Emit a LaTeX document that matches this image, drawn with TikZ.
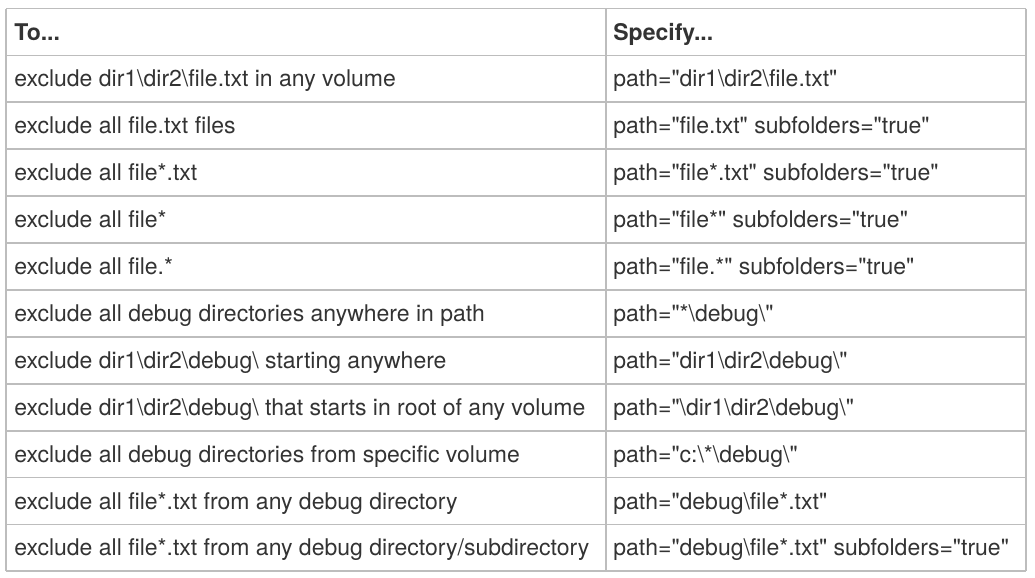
\documentclass[tikz,border=0pt]{standalone}
\usepackage{fontspec}
\setmainfont{TeX Gyre Heros}[Ligatures=TeXOff]
\newcommand\bsl{\textbackslash}
\definecolor{gridc}{HTML}{BDBDBD}
\definecolor{ink}{HTML}{333333}
\begin{document}
\begin{tikzpicture}[x=0.5pt,y=-0.5pt,
  cell/.style={anchor=base west,inner sep=0pt,text=ink,font=\fontsize{11.5}{13}\selectfont},
  head/.style={cell,font=\fontsize{11.5}{13}\selectfont\bfseries},
  rule/.style={draw=gridc,line width=0.9pt}]
\useasboundingbox (0,0) rectangle (1035,578);
% grid
\foreach \k in {0,...,12} {
  \draw[rule] (6,{8.5+46.9*\k}) -- (1026,{8.5+46.9*\k});
}
\draw[rule] (6,8.5) -- (6,571.3);
\draw[rule] (606,8.5) -- (606,571.3);
\draw[rule] (1026,8.5) -- (1026,571.3);
% header
\node[head] (h1) at (14,40) {To...};
\node[head] (h2) at (613,40) {Specify...};
% rows
\node[cell] (a1) at (14,86.9) {exclude dir1\bsl dir2\bsl file.txt in any volume};
\node[cell] (b1) at (613,86.9) {path="dir1\bsl dir2\bsl file.txt"};
\node[cell] (a2) at (14,133.8) {exclude all file.txt files};
\node[cell] (b2) at (613,133.8) {path="file.txt" subfolders="true"};
\node[cell] (a3) at (14,180.7) {exclude all file*.txt};
\node[cell] (b3) at (613,180.7) {path="file*.txt" subfolders="true"};
\node[cell] (a4) at (14,227.6) {exclude all file*};
\node[cell] (b4) at (613,227.6) {path="file*" subfolders="true"};
\node[cell] (a5) at (14,274.5) {exclude all file.*};
\node[cell] (b5) at (613,274.5) {path="file.*" subfolders="true"};
\node[cell] (a6) at (14,321.4) {exclude all debug directories anywhere in path};
\node[cell] (b6) at (613,321.4) {path="*\bsl debug\bsl "};
\node[cell] (a7) at (14,368.3) {exclude dir1\bsl dir2\bsl debug\bsl{} starting anywhere};
\node[cell] (b7) at (613,368.3) {path="dir1\bsl dir2\bsl debug\bsl "};
\node[cell] (a8) at (14,415.2) {exclude dir1\bsl dir2\bsl debug\bsl{} that starts in root of any volume};
\node[cell] (b8) at (613,415.2) {path="\bsl dir1\bsl dir2\bsl debug\bsl "};
\node[cell] (a9) at (14,462.1) {exclude all debug directories from specific volume};
\node[cell] (b9) at (613,462.1) {path="c:\bsl *\bsl debug\bsl "};
\node[cell] (a10) at (14,509) {exclude all file*.txt from any debug directory};
\node[cell] (b10) at (613,509) {path="debug\bsl file*.txt"};
\node[cell] (a11) at (14,555.9) {exclude all file*.txt from any debug directory/subdirectory};
\node[cell] (b11) at (613,555.9) {path="debug\bsl file*.txt" subfolders="true"};
\end{tikzpicture}
\end{document}
